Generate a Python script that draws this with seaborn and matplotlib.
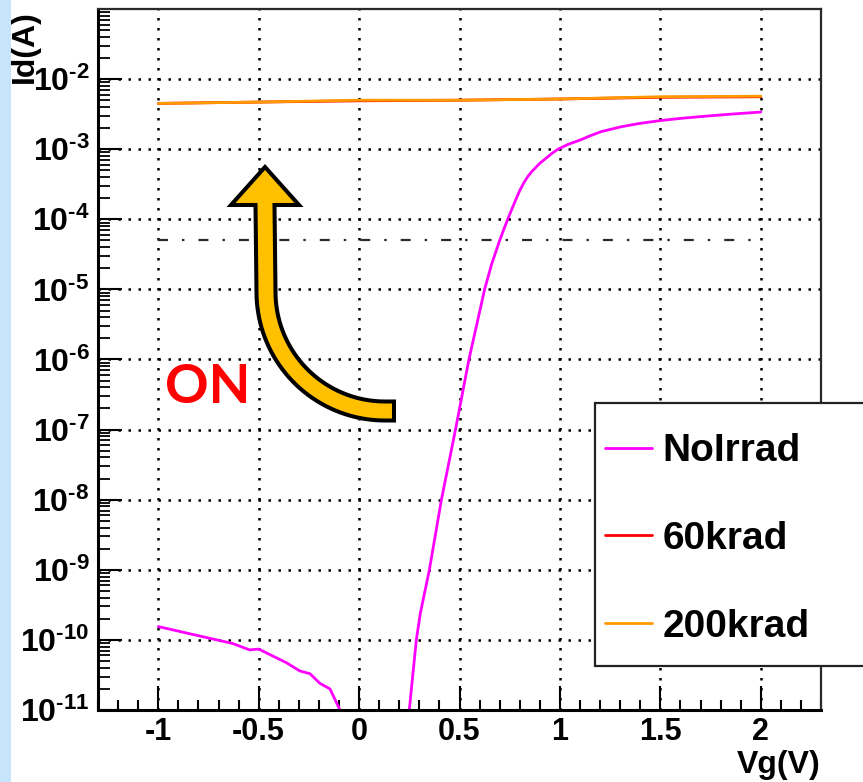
import numpy as np
import pandas as pd
import matplotlib
matplotlib.use("Agg")
import matplotlib.pyplot as plt
import seaborn as sns
from matplotlib.patches import Rectangle, Polygon
from matplotlib.ticker import FixedLocator, MultipleLocator, LogLocator, NullFormatter

# ---------------- data ----------------
series_names = ["NoIrrad", "60krad", "200krad"]
series_colors = ["#ff00ff", "#ff0000", "#ff9900"]

vg_noirrad = [-1.0, -0.83, -0.63, -0.545, -0.50, -0.36, -0.295, -0.245, -0.195, -0.145,
              -0.095, -0.05, 0.20, 0.25, 0.285, 0.305, 0.35, 0.41, 0.48, 0.547, 0.625,
              0.66, 0.70, 0.72, 0.74, 0.76, 0.78, 0.80, 0.82, 0.84, 0.86, 0.88, 0.90,
              0.93, 0.96, 0.99, 1.04, 1.10, 1.15, 1.205, 1.305, 1.40, 1.505, 1.60, 1.72,
              1.85, 2.0]
id_noirrad = [1.55e-10, 1.2e-10, 8.9e-11, 7.2e-11, 7.4e-11, 4.7e-11, 3.6e-11, 3.3e-11, 2.4e-11, 2.0e-11,
              1.0e-11, 1e-13, 1e-13, 1.0e-11, 1.0e-10, 2.4e-10, 1.0e-9, 1.0e-8, 1.0e-7, 1.0e-6, 1.0e-5,
              2.29e-5, 5.0e-5, 7.1e-5, 1.0e-4, 1.38e-4, 1.9e-4, 2.57e-4, 3.31e-4, 4.07e-4, 4.79e-4, 5.5e-4, 6.3e-4,
              7.4e-4, 8.7e-4, 1.0e-3, 1.17e-3, 1.35e-3, 1.55e-3, 1.78e-3, 2.09e-3, 2.34e-3, 2.57e-3, 2.75e-3, 2.95e-3,
              3.16e-3, 3.39e-3]

vg_60krad = [-1.0, -0.5, 0.0, 0.5, 1.0, 1.5, 2.0]
id_60krad = [4.5e-3, 4.7e-3, 4.9e-3, 5.0e-3, 5.2e-3, 5.5e-3, 5.6e-3]

vg_200krad = [-1.0, -0.5, 0.0, 0.5, 1.0, 1.5, 2.0]
id_200krad = [4.5e-3, 4.7e-3, 5.0e-3, 5.0e-3, 5.2e-3, 5.6e-3, 5.7e-3]

ref_vg = [-1.0, 2.0]
ref_id = [5e-5, 5e-5]

x_ticks = [-1, -0.5, 0, 0.5, 1, 1.5, 2]
x_ticklabels = ["-1", "-0.5", "0", "0.5", "1", "1.5", "2"]
y_exponents = list(range(-11, -1))

# ---------------- style ----------------
sns.set_theme(style="white")
plt.rcParams["font.family"] = ["Liberation Sans", "DejaVu Sans"]
plt.rcParams["font.weight"] = "bold"
plt.rcParams["mathtext.fontset"] = "custom"
plt.rcParams["mathtext.rm"] = "Liberation Sans:bold"
plt.rcParams["mathtext.it"] = "Liberation Sans:bold"
plt.rcParams["mathtext.bf"] = "Liberation Sans:bold"
plt.rcParams["mathtext.sf"] = "Liberation Sans:bold"
plt.rcParams["mathtext.fallback"] = "cm"
plt.rcParams["axes.unicode_minus"] = False

W, H = 863, 782
fig = plt.figure(figsize=(W / 100, H / 100), dpi=100, facecolor="white")
ax = fig.add_axes([98 / W, 1 - 710 / H, (821 - 98) / W, (710 - 9) / H])
ax.set_yscale("log")

df = pd.DataFrame({
    "Vg": vg_noirrad + vg_60krad + vg_200krad,
    "Id": id_noirrad + id_60krad + id_200krad,
    "series": [series_names[0]] * len(vg_noirrad) + [series_names[1]] * len(vg_60krad)
              + [series_names[2]] * len(vg_200krad),
})
sns.lineplot(data=df, x="Vg", y="Id", hue="series", hue_order=series_names,
             palette=dict(zip(series_names, series_colors)), estimator=None,
             sort=False, lw=2.0, ax=ax, legend=False)
series_lines = list(ax.lines[:3])

ax.plot(ref_vg, ref_id, color="#2a2a2a", lw=1.6, ls=(0, (4.5, 6.3, 1.1, 6.3)), zorder=2)

ax.set_xlim(-1.3, 2.3)
ax.set_ylim(1e-11, 1e-1)
ax.set_xlabel("")
ax.set_ylabel("")

ax.xaxis.set_major_locator(FixedLocator(x_ticks))
ax.set_xticklabels(x_ticklabels)
ax.xaxis.set_minor_locator(MultipleLocator(0.1))
ax.yaxis.set_major_locator(FixedLocator([10.0 ** e for e in y_exponents]))
ax.set_yticklabels(["$10^{\u2010" + str(-e) + "}$" for e in y_exponents])
ax.yaxis.set_minor_locator(LogLocator(base=10, subs=np.arange(2, 10), numticks=100))
ax.yaxis.set_minor_formatter(NullFormatter())

ax.tick_params(axis="x", which="major", direction="in", length=17, width=1.5, labelsize=22,
               pad=5, top=False, bottom=True, color="black", labelcolor="black")
ax.tick_params(axis="x", which="minor", direction="in", length=7.5, width=1.5,
               top=False, bottom=True, color="black")
ax.tick_params(axis="y", which="major", direction="in", length=17, width=1.5, labelsize=23,
               pad=6, left=True, right=False, color="black", labelcolor="black")
ax.tick_params(axis="y", which="minor", direction="in", length=8.5, width=1.3,
               left=True, right=False, color="black")

ax.grid(True, which="major", axis="both", color="black", lw=1.8, ls=(0, (1, 3)))
ax.grid(False, which="minor")
ax.set_axisbelow(True)

for side in ["left", "bottom"]:
    ax.spines[side].set_linewidth(2.2)
    ax.spines[side].set_color("black")
for side in ["top", "right"]:
    ax.spines[side].set_linewidth(1.6)
    ax.spines[side].set_color("#2a2a2a")

# ---------------- legend ----------------
ax.add_patch(Rectangle((595 / W, 1 - 666 / H), (875 - 595) / W, (666 - 403) / H,
                       transform=fig.transFigure, facecolor="white", edgecolor="#222222",
                       lw=1.6, clip_on=False, zorder=4))
leg = ax.legend(handles=series_lines, labels=series_names, loc="center left",
                bbox_to_anchor=(605 / W, 1 - 539 / H), bbox_transform=fig.transFigure,
                frameon=False, fontsize=28, handlelength=1.21, handletextpad=0.26,
                labelspacing=1.33, borderpad=0, borderaxespad=0)
leg.set_zorder(5)
for t in leg.get_texts():
    t.set_fontweight("bold")
    t.set_color("black")

# ---------------- annotations ----------------
def to_fig(points):
    return [(x / W, 1 - y / H) for x, y in points]

w = 9.5
cx, cy, R = 385, 292, 119
tt = np.linspace(0, np.pi / 2, 40)
inner = [(cx - (R - w) * np.cos(t), cy + (R - w) * np.sin(t)) for t in tt]
outer = [(cx - (R + w) * np.cos(t), cy + (R + w) * np.sin(t)) for t in tt[::-1]]
arrow_pts = ([(265, 167), (299, 205), (265 + w, 205)] + inner
             + [(394, cy + R - w), (394, cy + R + w)] + outer
             + [(265 - w, 205), (231, 205)])
ax.add_patch(Polygon(to_fig(arrow_pts), closed=True, transform=fig.transFigure,
                     facecolor="#ffc000", edgecolor="black", lw=2.9, joinstyle="miter",
                     clip_on=False, zorder=3))

fig.text(208 / W, 1 - 403 / H, "ON", color="#ff0000", fontsize=39, fontweight="bold",
         family=["Lato", "DejaVu Sans"], ha="center", va="baseline")

fig.text(25 / W, 1 - 10 / H, "Id(A)", rotation=90, ha="center", va="top", fontsize=23,
         fontweight="bold", color="black")
fig.text(821 / W, 1 - 750 / H, "Vg(V)", ha="right", va="top", fontsize=23,
         fontweight="bold", color="black")

fig.add_artist(Rectangle((0, 0), 11 / W, 1, transform=fig.transFigure,
                         facecolor="#c6e4fb", edgecolor="none", zorder=0))

fig.savefig("out.png", dpi=100, facecolor="white")
